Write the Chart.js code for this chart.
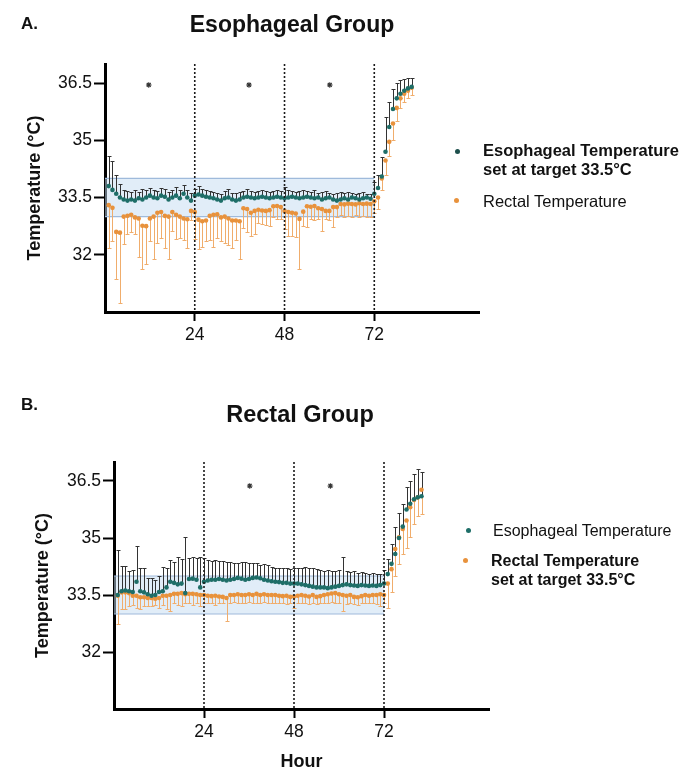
<!DOCTYPE html>
<html><head><meta charset="utf-8">
<script src="https://cdn.jsdelivr.net/npm/chart.js@4"></script>
<style>
html,body{margin:0;padding:0;background:#fff;}
body{width:685px;height:770px;position:relative;overflow:hidden;font-family:"Liberation Sans",Arial,Helvetica,sans-serif;color:#111;}
canvas{position:absolute;left:0;}
.t{position:absolute;white-space:nowrap;line-height:1;}
.lg{position:absolute;white-space:nowrap;line-height:19px;font-size:16.5px;}
.dot{position:absolute;width:5px;height:5px;border-radius:50%;}
</style></head>
<body>
<canvas id="c1" width="685" height="350" style="top:0;width:685px;height:350px"></canvas>
<canvas id="c2" width="685" height="392" style="top:380px;width:685px;height:392px"></canvas>

<div class="t" style="left:21px;top:15px;font-size:17px;font-weight:bold;">A.</div>
<div class="t" style="left:292px;top:12.5px;font-size:23px;font-weight:bold;transform:translateX(-50%);">Esophageal Group</div>
<div class="dot" style="left:455px;top:149px;background:#1d4f4c;"></div>
<div class="lg" style="left:483px;top:141px;font-weight:bold;">Esophageal Temperature<br>set at target 33.5°C</div>
<div class="dot" style="left:454px;top:198px;background:#e8923c;"></div>
<div class="lg" style="left:483px;top:191.5px;">Rectal Temperature</div>

<div class="t" style="left:21px;top:396px;font-size:17px;font-weight:bold;">B.</div>
<div class="t" style="left:300px;top:403px;font-size:23.5px;font-weight:bold;transform:translateX(-50%);">Rectal Group</div>
<div class="dot" style="left:466px;top:528px;background:#1e6e68;"></div>
<div class="lg" style="left:493px;top:521px;font-size:16px;">Esophageal Temperature</div>
<div class="dot" style="left:463px;top:558px;background:#e8923c;"></div>
<div class="lg" style="left:491px;top:552px;font-size:16px;font-weight:bold;line-height:18.5px;">Rectal Temperature<br>set at target 33.5°C</div>

<script>
// ---------- shared axis data ----------
const hours = [1,2,3,4,5,6,7,8,9,10,11,12,13,14,15,16,17,18,19,20,21,22,23,24,25,26,27,28,29,30,
  31,32,33,34,35,36,37,38,39,40,41,42,43,44,45,46,47,48,49,50,51,52,53,54,55,56,57,58,59,60,
  61,62,63,64,65,66,67,68,69,70,71,72,73,74,75,76,77,78,79,80,81,82];
const xTicks = [24, 48, 72];
const yTicks = [32, 33.5, 35, 36.5];
const periodLines = [24, 48, 72];
const targetBand = [33, 34];
const bandHours = [0, 72];

// ---------- Panel A: Esophageal group ----------
const escEso = [33.8,33.7,33.6,33.5,33.45,33.42,33.45,33.42,33.48,33.45,33.5,33.55,33.5,33.48,33.55,33.52,33.45,33.5,33.55,33.48,
  33.6,33.5,33.42,33.55,33.58,33.55,33.52,33.5,33.48,33.45,33.42,33.48,33.5,33.45,33.42,33.45,33.5,33.52,33.5,33.48,
  33.5,33.52,33.5,33.48,33.5,33.52,33.5,33.48,33.5,33.52,33.5,33.48,33.5,33.52,33.5,33.48,33.5,33.45,33.48,33.5,
  33.45,33.42,33.45,33.48,33.45,33.5,33.48,33.45,33.48,33.5,33.47,33.6,
  33.75,34.05,34.7,35.35,35.82,36.1,36.22,36.3,36.36,36.4];
const escEsoUpper = [34.6,34.47,34.08,33.85,33.7,33.68,33.65,33.7,33.65,33.72,33.7,33.75,33.7,33.68,33.75,33.72,33.65,33.7,33.78,33.7,
  33.82,33.7,33.62,33.72,33.8,33.72,33.7,33.68,33.65,33.62,33.6,33.68,33.72,33.62,33.62,33.65,33.68,33.72,33.68,33.65,
  33.68,33.7,33.68,33.65,33.68,33.7,33.68,33.77,33.7,33.68,33.65,33.68,33.7,33.68,33.65,33.7,33.62,33.65,33.68,33.62,
  33.6,33.62,33.65,33.62,33.65,33.62,33.6,33.62,33.65,33.6,33.58,33.9,
  34.08,34.55,35.6,36.0,36.35,36.5,36.58,36.6,36.62,36.62];
const escRect = [33.3,33.23,32.6,32.58,33.0,33.02,33.05,32.98,32.95,32.76,32.75,32.95,33.0,33.1,33.12,33.02,33.0,33.12,33.05,33.0,
  32.95,32.93,33.15,33.12,32.92,32.88,32.9,33.02,33.05,33.06,32.98,33.0,32.95,32.9,32.9,32.88,33.22,33.2,33.1,33.15,
  33.18,33.16,33.15,33.17,33.27,33.28,33.25,33.15,33.12,33.1,33.08,32.94,33.13,33.27,33.26,33.28,33.22,33.2,33.15,33.15,
  33.25,33.25,33.33,33.32,33.34,33.33,33.32,33.35,33.33,33.34,33.33,33.4,
  33.5,34.0,34.47,34.96,35.44,35.85,36.1,36.22,36.3,36.38];
const escRectLower = [32.19,32.37,31.37,30.74,32.28,32.55,32.59,32.55,31.93,31.63,31.76,32.37,31.89,32.3,32.45,32.19,31.89,32.63,32.42,32.45,
  32.4,32.19,32.9,32.42,32.16,32.2,32.35,32.4,32.2,32.45,32.35,32.3,32.25,32.19,32.4,31.89,32.7,32.6,32.5,32.55,
  32.82,32.8,32.78,32.76,33.0,32.95,32.93,32.68,32.5,32.48,32.46,31.62,32.75,32.72,32.95,32.9,32.95,32.63,32.95,32.9,
  32.72,33.0,33.05,33.0,33.02,32.98,33.05,33.0,33.02,32.98,33.0,33.1,
  33.2,33.7,34.1,34.6,35.0,35.5,35.85,36.0,36.1,36.2];
const escStarHours = [11.7, 38.5, 60.1];
const escStarLevel = 36.45;

// ---------- Panel B: Rectal group ----------
const recEso = [33.5,33.6,33.62,33.6,33.58,33.85,33.6,33.57,33.52,33.48,33.5,33.58,33.6,33.7,33.85,33.82,33.78,33.8,33.55,33.92,
  33.93,33.9,33.7,33.85,33.88,33.9,33.9,33.92,33.9,33.88,33.9,33.92,33.95,33.93,33.9,33.92,33.95,33.96,33.94,33.9,
  33.88,33.86,33.85,33.84,33.82,33.82,33.8,33.8,33.8,33.78,33.76,33.74,33.72,33.7,33.7,33.7,33.68,33.7,33.72,33.74,
  33.76,33.78,33.76,33.75,33.74,33.76,33.75,33.74,33.75,33.74,33.76,33.8,
  34.05,34.32,34.58,35.0,35.3,35.75,35.9,36.02,36.07,36.1];
const recEsoUpper = [34.68,34.27,34.27,34.14,34.15,34.8,34.21,34.2,33.96,33.95,33.9,34.0,34.25,34.2,34.42,34.38,34.49,34.45,35.03,34.48,
  34.5,34.48,34.5,34.48,34.42,34.4,34.42,34.4,34.4,34.38,34.36,34.35,34.34,34.37,34.36,34.35,34.33,34.33,34.3,34.32,
  34.3,34.25,34.22,34.2,34.21,34.2,34.18,34.22,34.22,34.2,34.24,34.2,34.22,34.18,34.15,34.14,34.15,34.14,34.13,34.15,
  34.5,34.12,34.1,34.12,34.08,34.1,34.08,34.06,34.08,34.06,34.05,34.15,
  34.45,34.84,35.28,35.67,35.89,36.33,36.5,36.68,36.82,36.73];
const recRect = [33.48,33.57,33.57,33.55,33.48,33.48,33.44,33.44,33.42,33.42,33.4,33.42,33.48,33.48,33.5,33.53,33.53,33.55,33.52,33.53,
  33.53,33.52,33.5,33.5,33.48,33.47,33.48,33.46,33.45,33.42,33.5,33.5,33.52,33.5,33.5,33.52,33.5,33.53,33.5,33.52,
  33.5,33.5,33.5,33.48,33.47,33.48,33.45,33.46,33.48,33.5,33.48,33.46,33.5,33.45,33.47,33.5,33.52,33.54,33.55,33.52,
  33.5,33.48,33.5,33.45,33.44,33.47,33.5,33.48,33.5,33.5,33.52,33.5,
  33.8,34.18,34.71,35.02,35.24,35.46,35.81,36.0,36.07,36.27];
const recRectLower = [32.74,33.13,33.13,33.2,33.25,33.15,33.13,33.2,33.22,33.2,33.25,33.17,33.25,33.13,33.09,33.3,33.25,33.22,33.28,33.3,
  33.25,33.28,33.22,33.3,33.28,33.3,33.25,33.3,33.28,32.82,33.3,33.32,33.3,33.28,33.3,33.32,33.3,33.28,33.3,33.32,
  33.3,33.28,33.3,33.28,33.3,33.26,33.28,33.17,33.28,33.3,33.28,33.26,33.3,33.27,33.28,33.3,33.3,33.32,33.3,33.28,
  33.09,33.27,33.3,33.26,33.25,33.28,33.3,33.28,33.3,33.26,33.2,33.3,
  33.17,33.57,34.0,34.32,34.58,34.75,35.02,35.37,35.59,35.63];
const recStarHours = [36.2, 57.7];
const recStarLevel = 36.37;

// ---------- styles ----------
const FONT = '"Liberation Sans", Arial, Helvetica, sans-serif';
const TEAL = '#1e6e68';
const ORANGE = '#e8923c';
const ORANGE_BAR = '#f0ad6c';
const DARK_BAR = '#333333';

const bandPlugin = {
  id: 'band',
  beforeDatasetsDraw(chart, args, o) {
    const {ctx, scales: {x, y}} = chart;
    const x0 = x.getPixelForValue(o.from), x1 = x.getPixelForValue(o.to);
    const yT = y.getPixelForValue(o.high), yB = y.getPixelForValue(o.low);
    ctx.save();
    ctx.fillStyle = 'rgba(196,220,242,0.5)';
    ctx.fillRect(x0, yT, x1 - x0, yB - yT);
    ctx.strokeStyle = '#9fbadb';
    ctx.lineWidth = 1.2;
    ctx.beginPath();
    ctx.moveTo(x0, yT); ctx.lineTo(x1, yT);
    ctx.moveTo(x0, yB); ctx.lineTo(x1, yB);
    ctx.stroke();
    ctx.restore();
  }
};

const errorPlugin = {
  id: 'errorBars',
  beforeDatasetsDraw(chart, args, o) {
    const {ctx, scales: {x, y}} = chart;
    ctx.save();
    (o.sets || []).forEach(s => {
      ctx.strokeStyle = s.color;
      ctx.lineWidth = 1;
      s.hours.forEach((h, i) => {
        const px = Math.round(x.getPixelForValue(h)) + 0.5;
        const p0 = y.getPixelForValue(s.values[i]);
        const p1 = Math.round(y.getPixelForValue(s.ends[i])) + 0.5;
        ctx.beginPath();
        ctx.moveTo(px, p0); ctx.lineTo(px, p1);
        ctx.moveTo(px - 2, p1); ctx.lineTo(px + 2, p1);
        ctx.stroke();
      });
    });
    ctx.restore();
  }
};

const guidePlugin = {
  id: 'guides',
  afterDatasetsDraw(chart, args, o) {
    const {ctx, chartArea, scales: {x}} = chart;
    ctx.save();
    ctx.strokeStyle = '#1a1a1a';
    ctx.lineWidth = 1.6;
    ctx.setLineDash([2, 2]);
    (o.at || []).forEach(v => {
      const px = x.getPixelForValue(v);
      ctx.beginPath();
      ctx.moveTo(px, chartArea.top);
      ctx.lineTo(px, chartArea.bottom);
      ctx.stroke();
    });
    ctx.restore();
  }
};

function buildChart(id, p) {
  const pts = (arr) => hours.map((h, i) => ({x: h, y: arr[i]}));
  return new Chart(document.getElementById(id), {
    type: 'scatter',
    data: {
      datasets: [
        {label: 'Esophageal Temperature', data: pts(p.eso), pointRadius: 2.3, pointBorderWidth: 0,
         backgroundColor: TEAL, borderColor: TEAL},
        {label: 'Rectal Temperature', data: pts(p.rect), pointRadius: 2.3, pointBorderWidth: 0,
         backgroundColor: ORANGE, borderColor: ORANGE},
        {label: 'p < 0.05', data: p.starHours.map(h => ({x: h, y: p.starLevel})), pointStyle: 'star',
         pointRadius: 2.8, pointBorderWidth: 1.1, borderColor: '#333', backgroundColor: '#333'}
      ]
    },
    options: {
      responsive: false, animation: false, events: [],
      layout: {padding: {left: p.padL, right: p.padR, top: p.padT, bottom: p.padB}},
      plugins: {
        legend: {display: false}, tooltip: {enabled: false},
        band: {from: bandHours[0], to: bandHours[1], low: targetBand[0], high: targetBand[1]},
        guides: {at: periodLines},
        errorBars: {sets: [
          {hours: hours, values: p.rect, ends: p.rectErr, color: ORANGE_BAR},
          {hours: hours, values: p.eso, ends: p.esoErr, color: DARK_BAR}
        ]}
      },
      scales: {
        x: {
          type: 'linear', min: 0, max: 100,
          afterBuildTicks: s => { s.ticks = xTicks.map(v => ({value: v})); },
          afterFit: s => { s.height = p.xH; },
          border: {display: true, color: '#000', width: 3},
          grid: {display: true, drawOnChartArea: false, drawTicks: true, tickLength: 9, tickWidth: 2, tickColor: '#000'},
          ticks: {color: '#111', font: {family: FONT, size: 17.5}, padding: 4, autoSkip: false, maxRotation: 0,
                  callback: v => String(v)},
          title: {display: !!p.xTitle, text: p.xTitle || '', color: '#111',
                  font: {family: FONT, size: 18, weight: 'bold', lineHeight: 1}, padding: {top: 0, bottom: 0}}
        },
        y: {
          type: 'linear', min: 30.5, max: 37,
          afterBuildTicks: s => { s.ticks = yTicks.map(v => ({value: v})); },
          afterFit: s => { s.width = p.yW; },
          border: {display: true, color: '#000', width: 3},
          grid: {display: true, drawOnChartArea: false, drawTicks: true, tickLength: 11, tickWidth: 2, tickColor: '#000'},
          ticks: {color: '#111', font: {family: FONT, size: 17.5}, padding: 2, autoSkip: false,
                  callback: v => String(v)},
          title: {display: true, text: 'Temperature (°C)', color: '#111',
                  font: {family: FONT, size: 18, weight: 'bold', lineHeight: 1.2}, padding: {top: 0, bottom: 0}}
        }
      }
    },
    plugins: [bandPlugin, errorPlugin, guidePlugin]
  });
}

buildChart('c1', {
  eso: escEso, esoErr: escEsoUpper, rect: escRect, rectErr: escRectLower,
  starHours: escStarHours, starLevel: escStarLevel,
  padL: 24, yW: 81, padR: 206, padT: 64, xH: 36, padB: 2, xTitle: null
});
buildChart('c2', {
  eso: recEso, esoErr: recEsoUpper, rect: recRect, rectErr: recRectLower,
  starHours: recStarHours, starLevel: recStarLevel,
  padL: 32, yW: 82, padR: 196, padT: 82, xH: 62, padB: 1, xTitle: 'Hour'
});
</script>
</body></html>
